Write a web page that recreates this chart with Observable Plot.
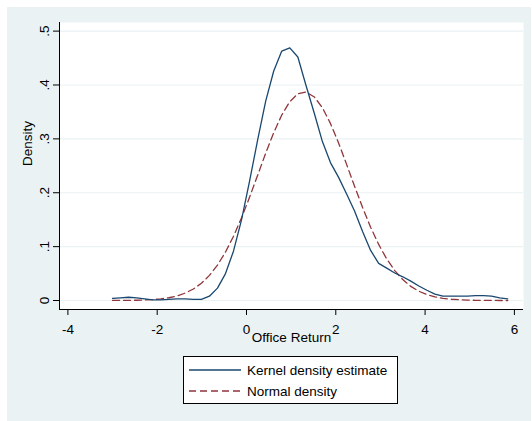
<!DOCTYPE html>
<html>
<head>
<meta charset="utf-8">
<script src="https://cdn.jsdelivr.net/npm/d3@7"></script>
<script src="https://cdn.jsdelivr.net/npm/@observablehq/plot@0.6"></script>
<style>
  html, body { margin: 0; padding: 0; background: #ffffff; }
  #wrap { position: absolute; left: 7px; top: 7px; width: 524px; height: 414px; background: #eaf2f3; }
  #legend { position: absolute; left: 176px; top: 349px; width: 215px; height: 48px; background: #ffffff;
            border: 1px solid #000; box-sizing: border-box; }
  #legend svg { display: block; }
</style>
</head>
<body>
<div id="wrap">
  <div id="chart"></div>
  <div id="legend"></div>
</div>
<script>
// Evaluation grid (Office Return) shared by both density curves
const xs = [
  -3.00, -2.82, -2.64, -2.46, -2.28, -2.10, -1.92, -1.74, -1.56, -1.37,
  -1.19, -1.01, -0.83, -0.65, -0.47, -0.29, -0.11, 0.07, 0.25, 0.43,
  0.61, 0.79, 0.97, 1.15, 1.33, 1.52, 1.70, 1.88, 2.06, 2.24,
  2.42, 2.60, 2.78, 2.96, 3.14, 3.32, 3.50, 3.68, 3.86, 4.04,
  4.22, 4.40, 4.59, 4.77, 4.95, 5.13, 5.31, 5.49, 5.67, 5.85
];

// Kernel density estimate
const kernel = [
  0.004, 0.005, 0.006, 0.005, 0.003, 0.001, 0.001, 0.002, 0.003, 0.003,
  0.002, 0.002, 0.008, 0.023, 0.050, 0.092, 0.150, 0.222, 0.298, 0.370,
  0.426, 0.463, 0.469, 0.452, 0.400, 0.347, 0.295, 0.256, 0.229, 0.198,
  0.166, 0.128, 0.093, 0.069, 0.060, 0.051, 0.044, 0.036, 0.027, 0.019,
  0.012, 0.008, 0.008, 0.008, 0.008, 0.009, 0.009, 0.008, 0.005, 0.003
];

// Normal density
const normal = [
  0.0001, 0.0001, 0.0003, 0.0005, 0.0010, 0.0017, 0.0030, 0.0051, 0.0084, 0.0138,
  0.0213, 0.0320, 0.0466, 0.0657, 0.0899, 0.1194, 0.1538, 0.1920, 0.2326, 0.2733,
  0.3115, 0.3443, 0.3691, 0.3837, 0.3870, 0.3778, 0.3578, 0.3287, 0.2929, 0.2531,
  0.2122, 0.1725, 0.1360, 0.1041, 0.0772, 0.0555, 0.0388, 0.0262, 0.0172, 0.0110,
  0.0068, 0.0041, 0.0023, 0.0013, 0.0007, 0.0004, 0.0002, 0.0001, 0.0000, 0.0000
];

const xTicks = [-4, -2, 0, 2, 4, 6];
const xTickLabels = ["-4", "-2", "0", "2", "4", "6"];
const yTicks = [0, 0.1, 0.2, 0.3, 0.4, 0.5];
const yTickLabels = ["0", ".1", ".2", ".3", ".4", ".5"];

const seriesNames = ["Kernel density estimate", "Normal density"];
const xTitle = "Office Return";
const yTitle = "Density";

const navy = "#1a476f";
const maroon = "#90353b";
const gridColor = "#eaf2f3";
const font = "'Liberation Sans', Arial, Helvetica, sans-serif";
const fontSize = 13.5;

const xDomain = [-4.188, 6.204];
const yDomain = [-0.0167, 0.516];

const xLabel = new Map(xTicks.map((t, i) => [t, xTickLabels[i]]));
const yLabel = new Map(yTicks.map((t, i) => [t, yTickLabels[i]]));

const chart = Plot.plot({
  width: 524,
  height: 345,
  marginLeft: 52,
  marginRight: 8,
  marginTop: 15,
  marginBottom: 43,
  x: {domain: xDomain},
  y: {domain: yDomain},
  style: {background: "transparent", fontFamily: font, fontSize: fontSize + "px", color: "#000", overflow: "visible"},
  marks: [
    Plot.frame({fill: "white", stroke: "none"}),
    Plot.gridY(yTicks, {stroke: gridColor, strokeOpacity: 1, strokeWidth: 1.2}),
    Plot.line(normal, {x: (d, i) => xs[i], y: d => d, stroke: maroon, strokeWidth: 1.3, strokeDasharray: "7,4"}),
    Plot.line(kernel, {x: (d, i) => xs[i], y: d => d, stroke: navy, strokeWidth: 1.3}),
    Plot.ruleY([yDomain[0]], {stroke: "#000", strokeWidth: 1}),
    Plot.ruleX([xDomain[0]], {stroke: "#000", strokeWidth: 1}),
    Plot.axisX(xTicks, {tickSize: 6, tickPadding: 9, tickFormat: d => xLabel.get(d), label: null, fontSize}),
    Plot.axisY(yTicks, {tickSize: 6, tickPadding: 5, tickRotate: -90, textAnchor: "middle", lineAnchor: "bottom",
                        tickFormat: d => yLabel.get(d), label: null, fontSize}),
    Plot.text([xTitle], {frameAnchor: "bottom", dy: 32, fontSize}),
    Plot.text([yTitle], {frameAnchor: "left", rotate: -90, dx: -32, fontSize})
  ]
});
document.getElementById("chart").appendChild(chart);

// Legend: line samples with series names
const legendSvg = d3.select("#legend").append("svg")
  .attr("width", 213).attr("height", 46)
  .style("font-family", font).style("font-size", fontSize + "px");
const rows = [
  {name: seriesNames[0], color: navy, dash: null, y: 13},
  {name: seriesNames[1], color: maroon, dash: "7,4", y: 34}
];
for (const r of rows) {
  legendSvg.append("line")
    .attr("x1", 5).attr("x2", 57).attr("y1", r.y).attr("y2", r.y)
    .attr("stroke", r.color).attr("stroke-width", 1.3)
    .attr("stroke-dasharray", r.dash);
  legendSvg.append("text")
    .attr("x", 63).attr("y", r.y + 4.8).attr("fill", "#000").text(r.name);
}
</script>
</body>
</html>
